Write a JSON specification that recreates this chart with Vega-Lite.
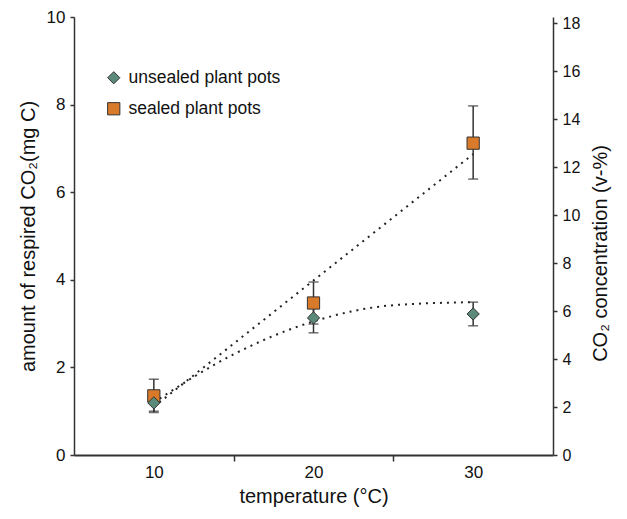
{
  "$schema": "https://vega.github.io/schema/vega-lite/v6.json",
  "width": 479,
  "height": 438,
  "autosize": {"type": "none"},
  "padding": {"left": 74, "top": 17, "right": 74, "bottom": 64},
  "background": "white",
  "config": {
    "view": {"stroke": null},
    "font": "Liberation Sans",
    "axis": {"grid": false, "domainColor": "#333333", "tickColor": "#333333", "labelColor": "#111111", "titleColor": "#111111", "titleFontWeight": "normal", "labelFont": "Liberation Sans", "titleFont": "Liberation Sans"}
  },
  "datasets": {
    "points": [
      {"t": 10, "series": "sealed plant pots", "v": 1.35, "lo": 0.97, "hi": 1.73},
      {"t": 20, "series": "sealed plant pots", "v": 3.47, "lo": 2.99, "hi": 3.95},
      {"t": 30, "series": "sealed plant pots", "v": 7.12, "lo": 6.30, "hi": 7.97},
      {"t": 10, "series": "unsealed plant pots", "v": 1.19, "lo": 1.0, "hi": 1.38},
      {"t": 20, "series": "unsealed plant pots", "v": 3.13, "lo": 2.79, "hi": 3.47},
      {"t": 30, "series": "unsealed plant pots", "v": 3.22, "lo": 2.95, "hi": 3.49}
    ],
    "trends": [
      {"t": 10, "series": "sealed plant pots", "v": 1.1},
      {"t": 30, "series": "sealed plant pots", "v": 6.87},
      {"t": 10, "series": "unsealed plant pots", "v": 1.2},
      {"t": 15, "series": "unsealed plant pots", "v": 2.3},
      {"t": 20, "series": "unsealed plant pots", "v": 3.05},
      {"t": 25, "series": "unsealed plant pots", "v": 3.42},
      {"t": 30, "series": "unsealed plant pots", "v": 3.49}
    ]
  },
  "layer": [
    {
      "layer": [
        {
          "data": {"name": "trends"},
          "mark": {"type": "line", "color": "#222222", "strokeWidth": 2, "strokeDash": [2, 5], "interpolate": "monotone"},
          "encoding": {
            "x": {"field": "t", "type": "quantitative", "scale": {"domain": [5, 35], "nice": false, "zero": false},
              "axis": {"title": "temperature (°C)", "values": [10, 15, 20, 25, 30],
                "labelExpr": "datum.value % 10 == 0 ? datum.label : ''",
                "tickOpacity": {"condition": {"test": "datum.value % 10 != 0", "value": 1}, "value": 0},
                "domainWidth": 2, "tickWidth": 1.5, "tickSize": 6, "labelFontSize": 17, "labelPadding": 3,
                "titleFontSize": 20, "titlePadding": 6}},
            "y": {"field": "v", "type": "quantitative", "scale": {"domain": [0, 10], "nice": false},
              "axis": {"title": "amount of respired CO₂(mg C)", "values": [0, 2, 4, 6, 8, 10],
                "domainWidth": 1.5, "tickWidth": 1.5, "tickSize": 4, "labelFontSize": 17, "labelPadding": 5,
                "titleFontSize": 20, "titlePadding": 8}},
            "detail": {"field": "series"}
          }
        },
        {
          "data": {"name": "points"},
          "mark": {"type": "errorbar", "color": "#333333", "thickness": 1.5, "ticks": {"size": 10}},
          "encoding": {
            "x": {"field": "t", "type": "quantitative", "title": "temperature (°C)"},
            "y": {"field": "lo", "type": "quantitative", "title": "amount of respired CO₂(mg C)"},
            "y2": {"field": "hi"}
          }
        },
        {
          "data": {"name": "points"},
          "mark": {"type": "point", "filled": true, "opacity": 1, "stroke": "#333333", "strokeWidth": 1, "size": 150},
          "encoding": {
            "x": {"field": "t", "type": "quantitative", "title": "temperature (°C)"},
            "y": {"field": "v", "type": "quantitative", "title": "amount of respired CO₂(mg C)"},
            "shape": {"field": "series", "type": "nominal", "scale": {"domain": ["unsealed plant pots", "sealed plant pots"], "range": ["diamond", "square"]},
              "legend": {"title": null, "orient": "none", "legendX": 31, "legendY": 52, "labelFontSize": 17.5, "labelFont": "Liberation Sans", "labelColor": "#111111", "symbolSize": 150, "symbolStrokeColor": "#333333", "symbolStrokeWidth": 1, "rowPadding": 12, "labelOffset": 6}},
            "color": {"field": "series", "type": "nominal", "scale": {"domain": ["unsealed plant pots", "sealed plant pots"], "range": ["#5b8a7a", "#d97a2a"]},
              "legend": {"title": null, "orient": "none", "legendX": 31, "legendY": 52, "labelFontSize": 17.5, "labelFont": "Liberation Sans", "labelColor": "#111111", "symbolSize": 150, "symbolStrokeColor": "#333333", "symbolStrokeWidth": 1, "rowPadding": 12, "labelOffset": 6}}
          }
        }
      ]
    },
    {
      "data": {"name": "points"},
      "mark": {"type": "point", "opacity": 0},
      "encoding": {
        "x": {"field": "t", "type": "quantitative", "title": "temperature (°C)"},
        "y": {"field": "v", "type": "quantitative", "scale": {"domain": [0, 18.25], "nice": false},
          "axis": {"orient": "right", "title": "CO₂ concentration (v-%)", "values": [0, 2, 4, 6, 8, 10, 12, 14, 16, 18],
            "domainWidth": 1.5, "tickWidth": 1.5, "tickSize": 4, "labelFontSize": 16, "labelPadding": 5,
            "titleFontSize": 20, "titleAngle": 270, "titleBaseline": "top", "titlePadding": 11, "titleY": 236}}
      }
    }
  ],
  "resolve": {"scale": {"y": "independent"}}
}
